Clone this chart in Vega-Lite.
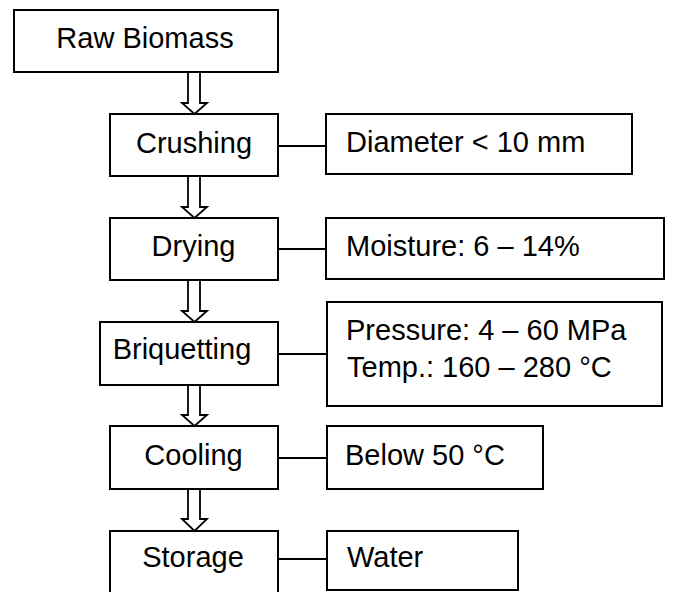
{
  "$schema": "https://vega.github.io/schema/vega-lite/v6.json",
  "width": 673,
  "height": 592,
  "padding": 0,
  "autosize": {"type": "none"},
  "background": "white",
  "config": {"view": {"stroke": null}},
  "datasets": {
    "boxes": [
      {"name": "Raw Biomass", "x1": 14, "x2": 278, "y1": 10, "y2": 72},
      {"name": "Crushing", "x1": 110, "x2": 278, "y1": 114, "y2": 176},
      {"name": "Drying", "x1": 110, "x2": 278, "y1": 218, "y2": 280},
      {"name": "Briquetting", "x1": 100, "x2": 278, "y1": 322, "y2": 385},
      {"name": "Cooling", "x1": 110, "x2": 278, "y1": 426, "y2": 489},
      {"name": "Storage", "x1": 110, "x2": 278, "y1": 531, "y2": 600},
      {"name": "Diameter", "x1": 326, "x2": 632, "y1": 114, "y2": 174},
      {"name": "Moisture", "x1": 326, "x2": 664, "y1": 218, "y2": 279},
      {"name": "Pressure", "x1": 327, "x2": 662, "y1": 302, "y2": 406},
      {"name": "Below", "x1": 327, "x2": 543, "y1": 426, "y2": 489},
      {"name": "Water", "x1": 327, "x2": 518, "y1": 531, "y2": 590}
    ],
    "links": [
      {"x1": 278, "x2": 326, "y": 146},
      {"x1": 278, "x2": 326, "y": 249},
      {"x1": 278, "x2": 327, "y": 354},
      {"x1": 278, "x2": 327, "y": 458},
      {"x1": 278, "x2": 327, "y": 559}
    ],
    "arrows": [
      {"id": 1, "o": 1, "x": 188, "y": 72}, {"id": 1, "o": 2, "x": 188, "y": 103}, {"id": 1, "o": 3, "x": 182, "y": 103}, {"id": 1, "o": 4, "x": 194.5, "y": 114}, {"id": 1, "o": 5, "x": 207, "y": 103}, {"id": 1, "o": 6, "x": 200, "y": 103}, {"id": 1, "o": 7, "x": 200, "y": 72},
      {"id": 2, "o": 1, "x": 188, "y": 176}, {"id": 2, "o": 2, "x": 188, "y": 207}, {"id": 2, "o": 3, "x": 182, "y": 207}, {"id": 2, "o": 4, "x": 194.5, "y": 218}, {"id": 2, "o": 5, "x": 207, "y": 207}, {"id": 2, "o": 6, "x": 200, "y": 207}, {"id": 2, "o": 7, "x": 200, "y": 176},
      {"id": 3, "o": 1, "x": 188, "y": 280}, {"id": 3, "o": 2, "x": 188, "y": 311}, {"id": 3, "o": 3, "x": 182, "y": 311}, {"id": 3, "o": 4, "x": 194.5, "y": 322}, {"id": 3, "o": 5, "x": 207, "y": 311}, {"id": 3, "o": 6, "x": 200, "y": 311}, {"id": 3, "o": 7, "x": 200, "y": 280},
      {"id": 4, "o": 1, "x": 188, "y": 385}, {"id": 4, "o": 2, "x": 188, "y": 415}, {"id": 4, "o": 3, "x": 182, "y": 415}, {"id": 4, "o": 4, "x": 194.5, "y": 426}, {"id": 4, "o": 5, "x": 207, "y": 415}, {"id": 4, "o": 6, "x": 200, "y": 415}, {"id": 4, "o": 7, "x": 200, "y": 385},
      {"id": 5, "o": 1, "x": 188, "y": 489}, {"id": 5, "o": 2, "x": 188, "y": 519}, {"id": 5, "o": 3, "x": 182, "y": 519}, {"id": 5, "o": 4, "x": 194.5, "y": 531}, {"id": 5, "o": 5, "x": 207, "y": 519}, {"id": 5, "o": 6, "x": 200, "y": 519}, {"id": 5, "o": 7, "x": 200, "y": 489}
    ],
    "centerText": [
      {"label": "Raw Biomass", "x": 145, "y": 48},
      {"label": "Crushing", "x": 194, "y": 153},
      {"label": "Drying", "x": 193.5, "y": 256},
      {"label": "Briquetting", "x": 182, "y": 359},
      {"label": "Cooling", "x": 193.5, "y": 465},
      {"label": "Storage", "x": 193, "y": 567}
    ],
    "leftText": [
      {"label": "Diameter < 10 mm", "x": 346, "y": 152},
      {"label": "Moisture: 6 – 14%", "x": 346, "y": 256},
      {"label": "Pressure: 4 – 60 MPa", "x": 346, "y": 340},
      {"label": "Temp.: 160 – 280 °C", "x": 347, "y": 377},
      {"label": "Below 50 °C", "x": 345, "y": 465},
      {"label": "Water", "x": 347, "y": 567}
    ]
  },
  "layer": [
    {
      "data": {"name": "boxes"},
      "mark": {"type": "rect", "fill": "white", "stroke": "black", "strokeWidth": 2, "clip": true},
      "encoding": {
        "x": {"field": "x1", "type": "quantitative", "scale": {"domain": [0, 673], "nice": false, "zero": false}, "axis": null},
        "x2": {"field": "x2"},
        "y": {"field": "y1", "type": "quantitative", "scale": {"domain": [0, 592], "nice": false, "zero": false, "reverse": true}, "axis": null},
        "y2": {"field": "y2"}
      }
    },
    {
      "data": {"name": "links"},
      "mark": {"type": "rule", "stroke": "black", "strokeWidth": 2},
      "encoding": {
        "x": {"field": "x1", "type": "quantitative"},
        "x2": {"field": "x2"},
        "y": {"field": "y", "type": "quantitative"}
      }
    },
    {
      "data": {"name": "arrows"},
      "mark": {"type": "line", "stroke": "black", "strokeWidth": 1.8, "strokeJoin": "miter"},
      "encoding": {
        "x": {"field": "x", "type": "quantitative"},
        "y": {"field": "y", "type": "quantitative"},
        "order": {"field": "o", "type": "quantitative"},
        "detail": {"field": "id", "type": "nominal"}
      }
    },
    {
      "data": {"name": "centerText"},
      "mark": {"type": "text", "font": "Liberation Sans", "fontSize": 29, "align": "center", "baseline": "alphabetic", "color": "black"},
      "encoding": {
        "x": {"field": "x", "type": "quantitative"},
        "y": {"field": "y", "type": "quantitative"},
        "text": {"field": "label"}
      }
    },
    {
      "data": {"name": "leftText"},
      "mark": {"type": "text", "font": "Liberation Sans", "fontSize": 29, "align": "left", "baseline": "alphabetic", "color": "black"},
      "encoding": {
        "x": {"field": "x", "type": "quantitative"},
        "y": {"field": "y", "type": "quantitative"},
        "text": {"field": "label"}
      }
    }
  ]
}
